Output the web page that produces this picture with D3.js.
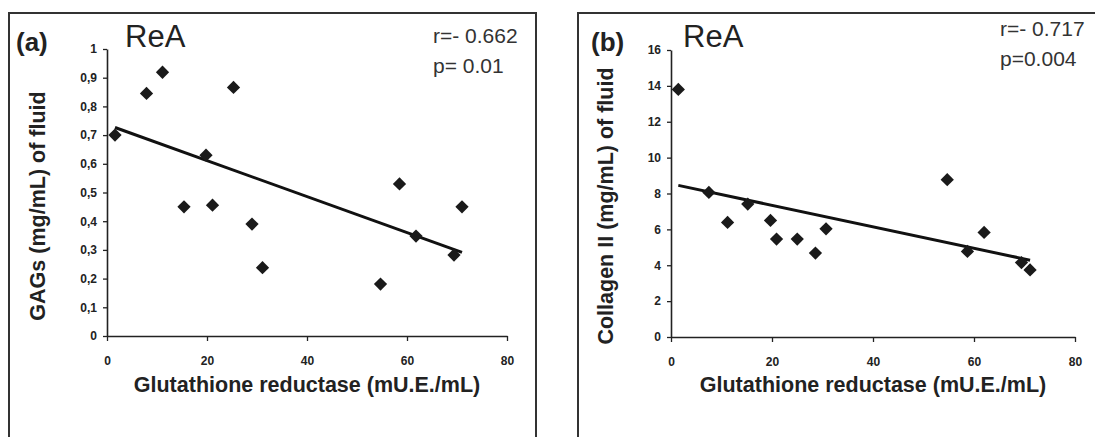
<!DOCTYPE html>
<html>
<head>
<meta charset="utf-8">
<script src="https://cdn.jsdelivr.net/npm/d3@7"></script>
<style>
  body { margin: 0; background: #fff; }
  svg { display: block; font-family: "Liberation Sans", Arial, sans-serif; }
</style>
</head>
<body>
<div id="my_dataviz"></div>
<script>
// values
const gsrA = [1.6, 7.9, 11.1, 15.4, 19.8, 21.1, 25.3, 29.0, 31.1, 54.7, 58.5, 61.8, 69.4, 71.0]
const gagA = [0.70, 0.845, 0.919, 0.45, 0.63, 0.456, 0.866, 0.39, 0.238, 0.181, 0.53, 0.348, 0.282, 0.45]
const trendA = [0.7365, -0.00627]   // intercept, slope

const gsrB = [1.45, 7.5, 11.2, 15.2, 19.7, 20.9, 25.0, 28.6, 30.7, 54.7, 58.7, 62.0, 69.4, 71.1]
const colB = [13.8, 8.06, 6.39, 7.41, 6.5, 5.46, 5.46, 4.68, 6.03, 8.77, 4.77, 5.83, 4.15, 3.74]
const trendB = [8.54, -0.0599]

const xTicks = [0, 20, 40, 60, 80]
const yTicksA = [0, 0.1, 0.2, 0.3, 0.4, 0.5, 0.6, 0.7, 0.8, 0.9, 1]
const yTicksB = [0, 2, 4, 6, 8, 10, 12, 14, 16]

const width = 1095, height = 437
const ink = "#222"

const svg = d3.select("#my_dataviz")
    .append("svg")
    .attr("width", width)
    .attr("height", height)

const commaFmt = d3.formatLocale({decimal: ",", thousands: ".", grouping: [3], currency: ["", ""]}).format("~g")

function panel(p) {
    const g = svg.append("g")

    // frame
    g.append("rect")
        .attr("x", p.frame[0]).attr("y", p.frame[1])
        .attr("width", p.frame[2]).attr("height", p.frame[3])
        .attr("fill", "none").attr("stroke", "#333").attr("stroke-width", 2)

    const xScale = d3.scaleLinear().domain([0, 80]).range(p.xr)
    const yScale = d3.scaleLinear().domain([0, p.yMax]).range(p.yr)

    const xAxis = g.append("g")
        .attr("transform", `translate(0,${p.yr[0]})`)
        .call(d3.axisBottom(xScale).tickValues(xTicks).tickSize(5).tickSizeOuter(0).tickPadding(15))
    const yAxis = g.append("g")
        .attr("transform", `translate(${p.xr[0]},0)`)
        .call(d3.axisLeft(yScale).tickValues(p.yTicks).tickSize(4).tickSizeOuter(0).tickPadding(6)
            .tickFormat(p.fmt))

    ;[xAxis, yAxis].forEach(a => {
        a.select(".domain").attr("stroke", ink).attr("stroke-width", 1.6)
        a.selectAll(".tick line").attr("stroke", ink).attr("stroke-width", 1.3)
        a.selectAll("text").attr("fill", ink).attr("font-size", 12).attr("font-weight", "bold")
    })

    // trend line over the data range
    const ext = d3.extent(p.xs)
    g.append("line")
        .attr("x1", xScale(ext[0])).attr("y1", yScale(p.trend[0] + p.trend[1] * ext[0]))
        .attr("x2", xScale(ext[1])).attr("y2", yScale(p.trend[0] + p.trend[1] * ext[1]))
        .attr("stroke", "#111").attr("stroke-width", 3)

    // diamond markers
    const sym = d3.symbol().type(d3.symbolSquare).size(88)
    g.selectAll("path.pt")
        .data(p.xs.map((x, i) => [x, p.ys[i]]))
        .enter()
        .append("path")
        .attr("class", "pt")
        .attr("d", sym)
        .attr("transform", d => `translate(${xScale(d[0])},${yScale(d[1])}) rotate(45)`)
        .attr("fill", "#1a1a1a")

    // texts
    g.append("text").attr("x", p.tag[0]).attr("y", 51)
        .attr("font-size", 26).attr("font-weight", "bold").attr("fill", ink).text(p.tag[1])
    g.append("text").attr("x", p.rea).attr("y", 47)
        .attr("font-size", 31).attr("fill", ink).text("ReA")
    g.append("text").attr("x", p.stat[0]).attr("y", p.stat[1])
        .attr("font-size", 21).attr("fill", "#333").text(p.stat[2])
    g.append("text").attr("x", p.stat[0]).attr("y", p.stat[1] + 30)
        .attr("font-size", 21).attr("fill", "#333").text(p.stat[3])

    g.append("text")
        .attr("x", (p.xr[0] + p.xr[1]) / 2).attr("y", 392)
        .attr("text-anchor", "middle").attr("font-size", 21.5).attr("font-weight", "bold").attr("fill", ink)
        .text("Glutathione reductase (mU.E./mL)")
    g.append("text")
        .attr("transform", `translate(${p.ylab[0]},206) rotate(-90)`)
        .attr("text-anchor", "middle").attr("font-size", 21.5).attr("font-weight", "bold").attr("fill", ink)
        .text(p.ylab[1])
}

panel({
    frame: [9, 13, 527, 440],
    xr: [107, 507], yr: [336, 49], yMax: 1,
    yTicks: yTicksA, fmt: d => commaFmt(d),
    xs: gsrA, ys: gagA, trend: trendA,
    tag: [16, "(a)"], rea: 125,
    stat: [433, 43, "r=- 0.662", "p= 0.01"],
    ylab: [45, "GAGs (mg/mL) of fluid"]
})

panel({
    frame: [578, 13, 540, 440],
    xr: [671, 1075], yr: [337, 50], yMax: 16,
    yTicks: yTicksB, fmt: d => d,
    xs: gsrB, ys: colB, trend: trendB,
    tag: [591, "(b)"], rea: 683,
    stat: [1000, 36, "r=- 0.717", "p=0.004"],
    ylab: [613, "Collagen II (mg/mL) of fluid"]
})
</script>
</body>
</html>
